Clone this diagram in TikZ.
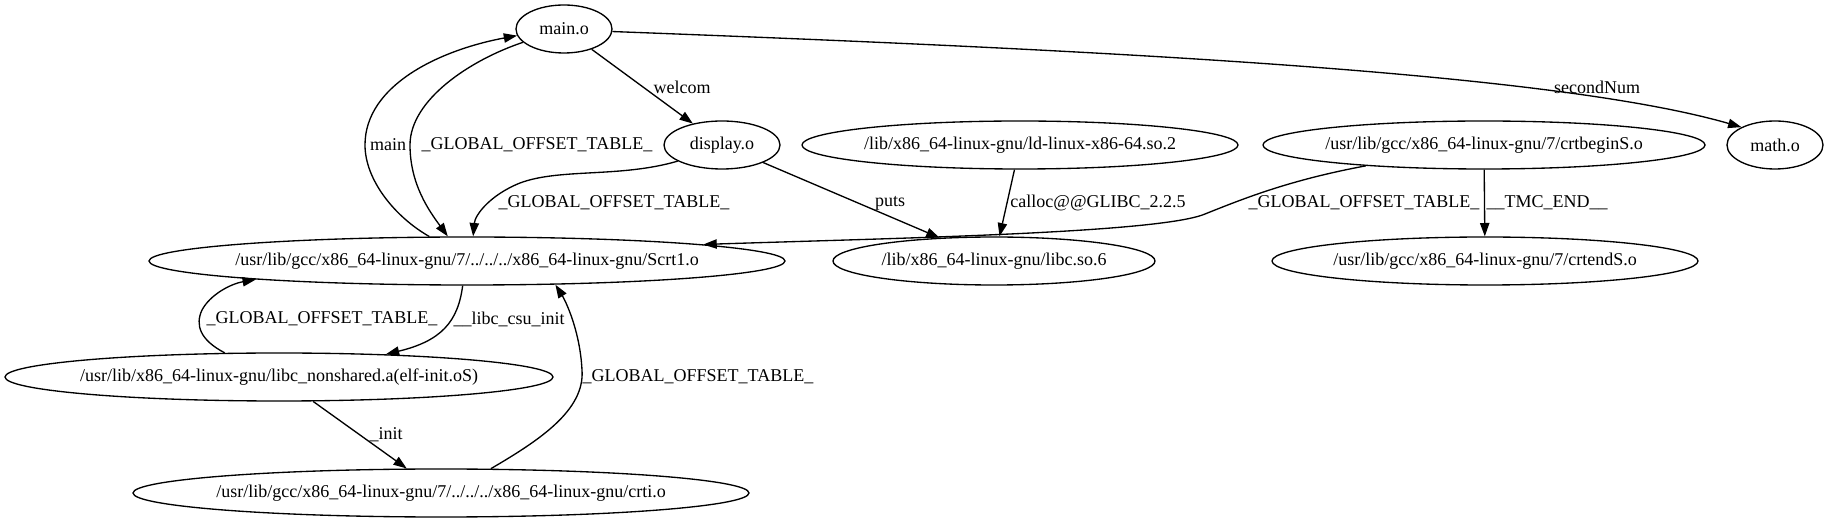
\documentclass[tikz,border=0pt]{standalone}
\usepackage{fontspec}
\setmainfont{Liberation Serif}
\usetikzlibrary{shapes.geometric, arrows.meta}

\begin{document}
\begin{tikzpicture}[x=0.75pt, y=-0.75pt, line width=1pt,
    font=\fontsize{13.5}{16}\selectfont,
    obj/.style={draw, ellipse, inner xsep=-300pt, inner ysep=0pt, minimum height=36pt},
    lbl/.style={inner sep=0pt},
    dep/.style={-{Triangle[length=10pt, width=7pt]}}]
    \fill[white] (0,0) rectangle (1828,523);
    \useasboundingbox (0,0) rectangle (1828,523);
    \node[obj, minimum width=72pt] (main_o) at (564,29) {main.o};
    \node[obj, minimum width=87pt] (display_o) at (722,145) {display.o};
    \node[obj, minimum width=327pt] (ld_so) at (1020,145) {/lib/x86\_64-linux-gnu/ld-linux-x86-64.so.2};
    \node[obj, minimum width=331.5pt] (crtbegin_S) at (1484,145) {/usr/lib/gcc/x86\_64-linux-gnu/7/crtbeginS.o};
    \node[obj, minimum width=72pt] (math_o) at (1775,145) {math.o};
    \node[obj, minimum width=477pt] (Scrt_1) at (467,261) {/usr/lib/gcc/x86\_64-linux-gnu/7/../../../x86\_64-linux-gnu/Scrt1.o};
    \node[obj, minimum width=241.5pt] (libc_so) at (994,261) {/lib/x86\_64-linux-gnu/libc.so.6};
    \node[obj, minimum width=319.5pt] (crtend_S) at (1485,261) {/usr/lib/gcc/x86\_64-linux-gnu/7/crtendS.o};
    \node[obj, minimum width=411pt] (libc_ns) at (279,377) {/usr/lib/x86\_64-linux-gnu/libc\_nonshared.a(elf-init.oS)};
    \node[obj, minimum width=462pt] (crt_i) at (441,493) {/usr/lib/gcc/x86\_64-linux-gnu/7/../../../x86\_64-linux-gnu/crti.o};

    \draw[dep] (main_o) -- (display_o);
    \draw[dep] (main_o.357) .. controls (1100,50) and (1550,72) .. (math_o.152);
    \draw[dep] (Scrt_1.147) .. controls (395,217) and (365,180) .. (365,145)
        .. controls (365,85) and (440,50) .. (main_o.188);
    \draw[dep] (main_o.198) .. controls (470,60) and (410,100) .. (410,145)
        .. controls (410,185) and (430,212) .. (Scrt_1.128);
    \draw[dep] (display_o.200) .. controls (620,178) and (560,168) .. (520,183)
        .. controls (490,195) and (475,215) .. (Scrt_1.76);
    \draw[dep] (display_o) -- (libc_so);
    \draw[dep] (ld_so) -- (libc_so);
    \draw[dep] (crtbegin_S.190) .. controls (1290,180) and (1245,198) .. (1205,214)
        .. controls (1160,233) and (900,238) .. (Scrt_1.4);
    \draw[dep] (crtbegin_S) -- (crtend_S);
    \draw[dep] (libc_ns.156) .. controls (200,340) and (195,325) .. (202,310)
        .. controls (210,295) and (230,284) .. (Scrt_1.185);
    \draw[dep] (Scrt_1.260) .. controls (458,322) and (441,341) .. (libc_ns.12);
    \draw[dep] (libc_ns) -- (crt_i);
    \draw[dep] (crt_i.26) .. controls (540,440) and (585,410) .. (582,370)
        .. controls (580,330) and (565,300) .. (Scrt_1.345);

    \node[lbl] (l_welcom) at (682,87) {welcom};
    \node[lbl] (l_second) at (1597,87) {secondNum};
    \node[lbl] (l_main) at (388,145) {main};
    \node[lbl] (l_got_a) at (537,145) {\_GLOBAL\_OFFSET\_TABLE\_};
    \node[lbl] (l_got_b) at (614,203) {\_GLOBAL\_OFFSET\_TABLE\_};
    \node[lbl] (l_puts) at (890,203) {puts};
    \node[lbl] (l_calloc) at (1098,203) {calloc@@GLIBC\_2.2.5};
    \node[lbl] (l_got_c) at (1364,203) {\_GLOBAL\_OFFSET\_TABLE\_};
    \node[lbl] (l_tmc) at (1547,203) {\_\_TMC\_END\_\_};
    \node[lbl] (l_got_d) at (322,319) {\_GLOBAL\_OFFSET\_TABLE\_};
    \node[lbl] (l_csu) at (509,319) {\_\_libc\_csu\_init};
    \node[lbl] (l_got_e) at (698,377) {\_GLOBAL\_OFFSET\_TABLE\_};
    \node[lbl] (l_init) at (386,435) {\_init};
\end{tikzpicture}
\end{document}
